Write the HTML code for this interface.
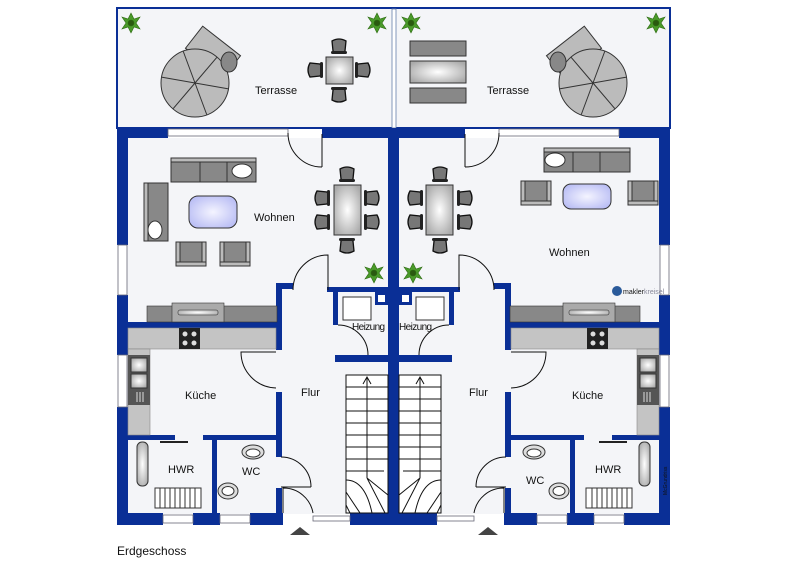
<!DOCTYPE html>
<html><head><meta charset="utf-8"><style>
html,body{margin:0;padding:0;background:#fff;width:800px;height:566px;overflow:hidden}
svg{display:block}
text{font-family:"Liberation Sans",sans-serif;fill:#111}
</style></head><body>
<svg width="800" height="566" viewBox="0 0 800 566" xmlns="http://www.w3.org/2000/svg">
<defs>
<radialGradient id="gl" cx="50%" cy="50%" r="60%"><stop offset="0" stop-color="#fff"/><stop offset="1" stop-color="#aaa"/></radialGradient>
<radialGradient id="bl" cx="50%" cy="50%" r="60%"><stop offset="0" stop-color="#f4f4ff"/><stop offset="1" stop-color="#b8bcf4"/></radialGradient>
<g id="chair"><path d="M-7,-6 Q0,-10 7,-6 L6,4 Q0,8 -6,4 Z" fill="#777" stroke="#111" stroke-width="1.3"/><rect x="-8" y="4" width="16" height="3" rx="1.5" fill="#222"/></g>
<g id="plant" fill="#4a9a2a" stroke="#2d6a12" stroke-width="0.6"><polygon points="0,-10 3,-4 9,-6 5,0 9,6 3,4 0,10 -3,4 -9,6 -5,0 -9,-6 -3,-4"/><circle r="3" fill="#2a5a10"/></g>
<g id="arm"><rect x="0" y="0" width="30" height="24" fill="#888" stroke="#333"/><rect x="0" y="0" width="4" height="24" fill="#bbb" stroke="#333"/><rect x="26" y="0" width="4" height="24" fill="#bbb" stroke="#333"/><rect x="0" y="20" width="30" height="4" fill="#bbb" stroke="#333"/></g>
<g id="walls" fill="#0a2f96">
<!-- floor -->
<rect x="127" y="138" width="263" height="376" fill="#f4f5f8"/>
<rect x="117" y="128" width="51" height="10"/>
<rect x="322" y="128" width="76" height="10"/>
<rect x="168" y="129" width="120" height="7" fill="#fff" stroke="#667" stroke-width="0.8"/>
<rect x="117" y="128" width="11" height="117"/>
<rect x="117" y="295" width="11" height="60"/>
<rect x="117" y="407" width="11" height="118"/>
<rect x="118" y="245" width="9" height="50" fill="#fff" stroke="#667" stroke-width="0.8"/>
<rect x="118" y="355" width="9" height="52" fill="#fff" stroke="#667" stroke-width="0.8"/>
<rect x="117" y="513" width="46" height="12"/>
<rect x="193" y="513" width="27" height="12"/>
<rect x="250" y="513" width="33" height="12"/>
<rect x="350" y="513" width="48" height="12"/>
<rect x="163" y="515" width="30" height="8" fill="#fff" stroke="#667" stroke-width="0.8"/>
<rect x="220" y="515" width="30" height="8" fill="#fff" stroke="#667" stroke-width="0.8"/>
<rect x="313" y="516" width="37" height="5" fill="#fff" stroke="#667" stroke-width="0.8"/>
<rect x="388" y="128" width="10" height="397"/>
<rect x="127" y="322" width="155" height="6"/>
<rect x="276" y="283" width="6" height="67"/>
<rect x="276" y="283" width="17" height="6"/>
<rect x="276" y="392" width="6" height="65"/>
<rect x="276" y="488" width="6" height="25"/>
<rect x="327" y="287" width="71" height="5"/>
<rect x="333" y="287" width="5" height="38"/>
<rect x="335" y="355" width="53" height="7"/>
<rect x="375" y="292" width="13" height="13"/>
<rect x="378" y="295" width="7" height="7" fill="#fff"/>
<rect x="127" y="435" width="48" height="5"/>
<rect x="203" y="435" width="79" height="5"/>
<rect x="212" y="440" width="5" height="73"/>
<rect x="160" y="441" width="28" height="2" fill="#222"/>
<!-- heizung unit -->
<rect x="343" y="297" width="28" height="23" fill="#fff" stroke="#333"/>
<!-- doors -->
<g fill="none" stroke="#111" stroke-width="1">
<path d="M322,167 L322,134 M322,167 A34,34 0 0 1 288,133"/>
<path d="M328,290 L328,255 A35,35 0 0 0 293,290"/>
<path d="M276,352 L241,352 A36,36 0 0 0 276,388"/>
<path d="M281,487 L311,487 M281,457 A30,30 0 0 1 311,487"/>
<path d="M283,513 L283,488 A30,30 0 0 1 313,513"/>
<path d="M338,325 A30,30 0 0 1 368,355"/>
</g>
<!-- stairs -->
<g fill="none" stroke="#111" stroke-width="1">
<rect x="346" y="375" width="42" height="138" fill="#fff"/>
<path d="M346,387H388M346,399H388M346,411H388M346,423H388M346,435H388M346,447H388M346,459H388M346,471H384"/>
<path d="M367,478 L367,378 M363,384 L367,377 L371,384"/>
<path d="M346,480 Q365,480 372,513 M346,492 L360,513 M367,478 L385,513 M367,478 L388,495 M346,505 L350,513"/>
</g>
<!-- kitchen -->
<rect x="128" y="328" width="148" height="21" fill="#c4c4c4" stroke="#888" stroke-width="0.6"/>
<rect x="128" y="349" width="22" height="86" fill="#c4c4c4" stroke="#888" stroke-width="0.6"/>
<rect x="179" y="328" width="21" height="21" fill="#222"/>
<g fill="#ddd"><circle cx="185" cy="334" r="2.5"/><circle cx="194" cy="334" r="2.5"/><circle cx="185" cy="343" r="2.5"/><circle cx="194" cy="343" r="2.5"/></g>
<rect x="128" y="355" width="22" height="50" fill="#555"/>
<rect x="131" y="358" width="16" height="14" fill="url(#gl)" stroke="#333"/>
<rect x="131" y="374" width="16" height="14" fill="url(#gl)" stroke="#333"/>
<path d="M137,392V402M140,392V402M143,392V402" stroke="#ddd"/>
<!-- sideboard -->
<rect x="147" y="306" width="130" height="16" fill="#888" stroke="#333" stroke-width="0.6"/>
<rect x="172" y="303" width="52" height="19" fill="#aaa" stroke="#333" stroke-width="0.6"/>
<rect x="178" y="310" width="40" height="5" rx="2" fill="url(#gl)" stroke="#333" stroke-width="0.6"/>
<!-- HWR / WC -->
<rect x="137" y="442" width="11" height="44" rx="5" fill="url(#gl)" stroke="#333"/>
<rect x="155" y="488" width="46" height="20" fill="#fff" stroke="#333"/>
<path d="M160,488V508M165,488V508M170,488V508M175,488V508M180,488V508M185,488V508M190,488V508M195,488V508" stroke="#333"/>
<ellipse cx="253" cy="452" rx="11" ry="7" fill="#ddd" stroke="#333"/>
<ellipse cx="253" cy="453" rx="7" ry="4" fill="#fff" stroke="#333"/>
<ellipse cx="228" cy="491" rx="10" ry="8" fill="#ddd" stroke="#333"/>
<ellipse cx="228" cy="491" rx="6" ry="4.5" fill="#fff" stroke="#333"/>
<!-- dining -->
<rect x="334" y="185" width="27" height="50" fill="url(#gl)" stroke="#333"/>
<use href="#chair" x="347" y="175"/>
<use href="#chair" transform="translate(347,245) rotate(180)"/>
<use href="#chair" transform="translate(323,198) rotate(-90)"/>
<use href="#chair" transform="translate(323,222) rotate(-90)"/>
<use href="#chair" transform="translate(371,198) rotate(90)"/>
<use href="#chair" transform="translate(371,222) rotate(90)"/>
</g>
</defs>

<!-- terrace -->
<rect x="117" y="8" width="553" height="120" fill="#f4f5f8" stroke="#0a2f96" stroke-width="2"/>
<rect x="392" y="9" width="4" height="119" fill="#fff" stroke="#6680aa" stroke-width="0.8"/>

<use href="#walls"/>
<use href="#walls" transform="translate(787,0) scale(-1,1)"/>

<!-- left terrace -->
<g transform="translate(213,52) rotate(38)"><rect x="-24" y="-14" width="48" height="28" fill="#bbb" stroke="#333"/></g>
<circle cx="195" cy="83" r="34" fill="#bbb" stroke="#333"/>
<path d="M195,83L229,83M195,83L178,54M195,83L212,54M195,83L161,83M195,83L178,112M195,83L212,112" stroke="#333" transform="rotate(10 195 83)"/>
<ellipse cx="229" cy="62" rx="8" ry="10" fill="#888" stroke="#333"/>
<rect x="326" y="57" width="27" height="27" fill="url(#gl)" stroke="#333"/>
<use href="#chair" x="339" y="47"/>
<use href="#chair" transform="translate(339,94) rotate(180)"/>
<use href="#chair" transform="translate(316,70) rotate(-90)"/>
<use href="#chair" transform="translate(362,70) rotate(90)"/>
<!-- right terrace -->
<rect x="410" y="41" width="56" height="15" fill="#888" stroke="#333"/>
<rect x="410" y="61" width="56" height="22" fill="url(#gl)" stroke="#333"/>
<rect x="410" y="88" width="56" height="15" fill="#888" stroke="#333"/>
<g transform="translate(574,52) rotate(-38)"><rect x="-24" y="-14" width="48" height="28" fill="#bbb" stroke="#333"/></g>
<circle cx="593" cy="83" r="34" fill="#bbb" stroke="#333"/>
<path d="M593,83L627,83M593,83L576,54M593,83L610,54M593,83L559,83M593,83L576,112M593,83L610,112" stroke="#333" transform="rotate(-10 593 83)"/>
<ellipse cx="558" cy="62" rx="8" ry="10" fill="#888" stroke="#333"/>

<!-- plants -->
<use href="#plant" x="131" y="23"/><use href="#plant" x="377" y="23"/>
<use href="#plant" x="411" y="23"/><use href="#plant" x="656" y="23"/>
<use href="#plant" x="374" y="273"/><use href="#plant" x="413" y="273"/>

<!-- left Wohnen -->
<rect x="171" y="158" width="85" height="24" fill="#888" stroke="#333"/>
<path d="M200,160V182M227,160V182" stroke="#333"/>
<rect x="171" y="158" width="85" height="4" fill="#bbb" stroke="#333"/>
<ellipse cx="242" cy="171" rx="10" ry="7" fill="#fff" stroke="#333"/>
<rect x="144" y="183" width="24" height="58" fill="#888" stroke="#333"/>
<rect x="144" y="183" width="4" height="58" fill="#bbb" stroke="#333"/>
<ellipse cx="155" cy="230" rx="7" ry="9" fill="#fff" stroke="#333"/>
<rect x="189" y="196" width="48" height="32" rx="9" fill="url(#bl)" stroke="#333"/>
<use href="#arm" x="176" y="242"/><use href="#arm" x="220" y="242"/>
<!-- right Wohnen -->
<rect x="544" y="148" width="86" height="24" fill="#888" stroke="#333"/>
<path d="M573,150V172M600,150V172" stroke="#333"/>
<rect x="544" y="148" width="86" height="4" fill="#bbb" stroke="#333"/>
<ellipse cx="555" cy="160" rx="10" ry="7" fill="#fff" stroke="#333"/>
<use href="#arm" transform="translate(521,181)"/>
<use href="#arm" transform="translate(628,181)"/>
<rect x="563" y="184" width="48" height="25" rx="8" fill="url(#bl)" stroke="#333"/>
<circle cx="617" cy="291" r="5" fill="#2a5a9a"/>
<text x="623" y="294" font-size="7" fill="#335">makler<tspan fill="#889">kreisel</tspan></text>
<text transform="translate(667,495) rotate(-90)" font-size="5" fill="#ccd">McGrundriss</text>

<!-- entrance arrows -->
<polygon points="290,535 300,527 310,535" fill="#444"/>
<polygon points="478,535 488,527 498,535" fill="#444"/>

<!-- labels -->
<g font-size="11">
<text x="255" y="94">Terrasse</text>
<text x="487" y="94">Terrasse</text>
<text x="254" y="221">Wohnen</text>
<text x="549" y="256">Wohnen</text>
<text x="352" y="330" font-size="10" letter-spacing="-0.6">Heizung</text>
<text x="399" y="330" font-size="10" letter-spacing="-0.6">Heizung</text>
<text x="185" y="399">Küche</text>
<text x="572" y="399">Küche</text>
<text x="301" y="396">Flur</text>
<text x="469" y="396">Flur</text>
<text x="168" y="473">HWR</text>
<text x="595" y="473">HWR</text>
<text x="242" y="475">WC</text>
<text x="526" y="484">WC</text>
<text x="117" y="555" font-size="12">Erdgeschoss</text>
</g>
</svg>
</body></html>
